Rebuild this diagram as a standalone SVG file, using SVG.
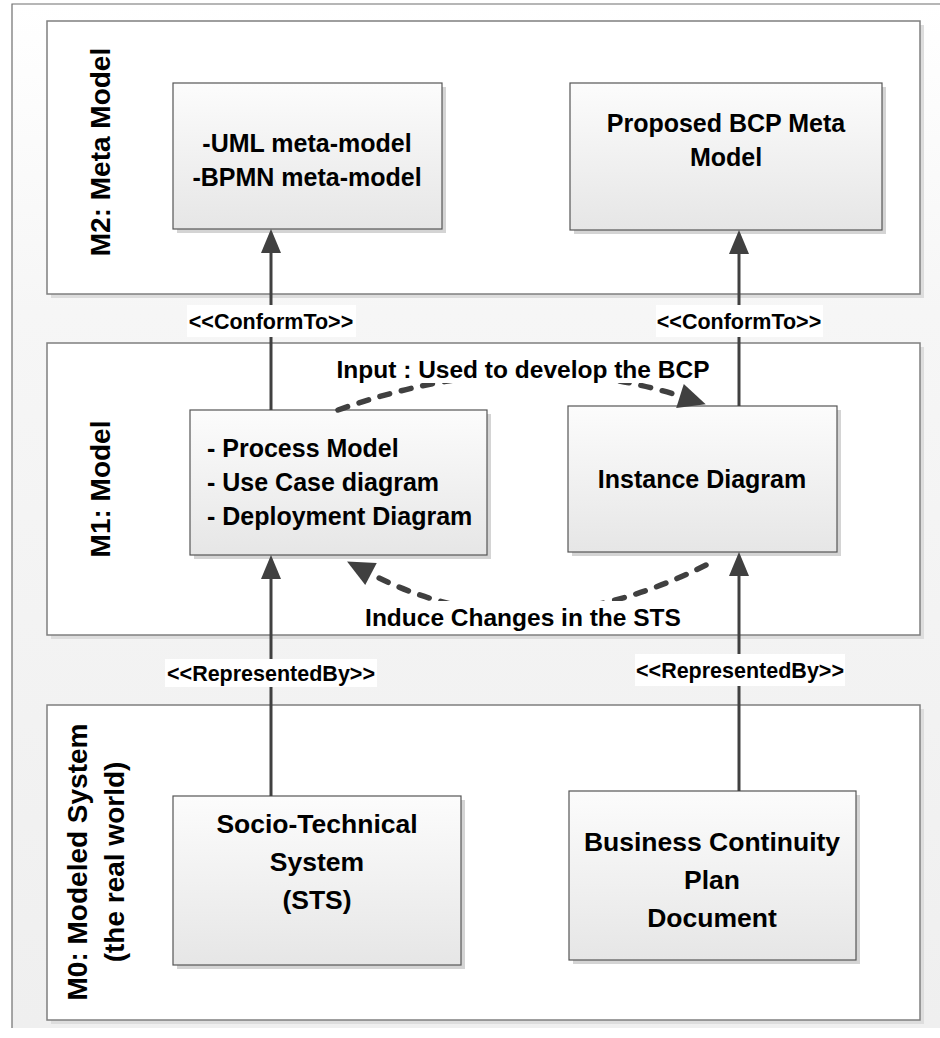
<svg xmlns="http://www.w3.org/2000/svg" width="940" height="1038" viewBox="0 0 940 1038">
  <defs>
    <linearGradient id="bgGrad" x1="0" y1="0" x2="0" y2="1">
      <stop offset="0" stop-color="#ffffff"/>
      <stop offset="0.3" stop-color="#f6f6f6"/>
      <stop offset="1" stop-color="#efefef"/>
    </linearGradient>
    <linearGradient id="boxGrad" x1="0" y1="0" x2="0" y2="1">
      <stop offset="0" stop-color="#fcfcfc"/>
      <stop offset="1" stop-color="#e6e6e6"/>
    </linearGradient>
    <marker id="arrowSolid" markerUnits="userSpaceOnUse" markerWidth="24" markerHeight="20" refX="0" refY="10" orient="auto" overflow="visible">
      <path d="M0,0 L24,10 L0,20 Z" fill="#404040"/>
    </marker>
    <marker id="arrowDash" markerUnits="userSpaceOnUse" markerWidth="27" markerHeight="25" refX="0" refY="12.5" orient="auto" overflow="visible">
      <path d="M0,0 L27,12.5 L0,25 Z" fill="#404040"/>
    </marker>
    <style>
      .frame { fill: url(#bgGrad); }
      .frame-edge { fill: none; stroke: #6e6e6e; stroke-width: 1.2; }
      .layer { fill: #ffffff; stroke: #7f7f7f; stroke-width: 1.5; }
      .layer-shadow { fill: #dddddd; }
      .box { fill: url(#boxGrad); stroke: #555555; stroke-width: 1.2; }
      .box-shadow { fill: #d4d4d4; }
      text { font-family: "Liberation Sans", Arial, sans-serif; font-weight: bold; fill: #000000; }
      .node-text { font-size: 25px; }
      .big-text { font-size: 26.5px; }
      .layer-text { font-size: 28px; }
      .stereo { font-size: 21.5px; }
      .flow-label { font-size: 24.5px; }
      .solid { fill: none; stroke: #404040; stroke-width: 3; marker-end: url(#arrowSolid); }
      .dashed { fill: none; stroke: #404040; stroke-width: 5.5; stroke-linecap: round; stroke-dasharray: 10 12; marker-end: url(#arrowDash); }
      .label-bg { fill: #ffffff; }
    </style>
  </defs>

  <!-- outer frame -->
  <g id="frame">
    <rect class="frame" x="12" y="4" width="928" height="1024"/>
    <path class="frame-edge" d="M940,4 H12 V1028"/>
  </g>

  <!-- metamodelling layers -->
  <g id="layer-m2">
    <rect class="layer-shadow" x="51" y="25" width="873" height="273"/>
    <rect class="layer" x="47" y="21" width="873" height="273"/>
    <text class="layer-text" text-anchor="middle" transform="translate(110,152) rotate(-90)">M2: Meta Model</text>
  </g>
  <g id="layer-m1">
    <rect class="layer-shadow" x="51" y="347" width="873" height="292"/>
    <rect class="layer" x="47" y="343" width="873" height="292"/>
    <text class="layer-text" text-anchor="middle" transform="translate(110,489) rotate(-90)">M1: Model</text>
  </g>
  <g id="layer-m0">
    <rect class="layer-shadow" x="51" y="709" width="873" height="315"/>
    <rect class="layer" x="47" y="705" width="873" height="315"/>
    <text class="layer-text" text-anchor="middle" transform="translate(87,862) rotate(-90)">M0: Modeled System</text>
    <text class="layer-text" text-anchor="middle" transform="translate(124,862) rotate(-90)">(the real world)</text>
  </g>

  <!-- nodes -->
  <g id="node-uml-bpmn">
    <rect class="box-shadow" x="177" y="87" width="269" height="146"/>
    <rect class="box" x="173" y="83" width="269" height="146"/>
    <text class="node-text" text-anchor="middle" x="307" y="152">-UML meta-model</text>
    <text class="node-text" text-anchor="middle" x="307" y="186">-BPMN meta-model</text>
  </g>
  <g id="node-bcp-meta">
    <rect class="box-shadow" x="574" y="87" width="312" height="147"/>
    <rect class="box" x="570" y="83" width="312" height="147"/>
    <text class="node-text" text-anchor="middle" x="726" y="132">Proposed BCP Meta</text>
    <text class="node-text" text-anchor="middle" x="726" y="166">Model</text>
  </g>
  <g id="node-process">
    <rect class="box-shadow" x="194" y="414" width="297" height="145"/>
    <rect class="box" x="190" y="410" width="297" height="145"/>
    <text class="node-text" x="207" y="457">- Process Model</text>
    <text class="node-text" x="207" y="491">- Use Case diagram</text>
    <text class="node-text" x="207" y="525">- Deployment Diagram</text>
  </g>
  <g id="node-instance">
    <rect class="box-shadow" x="572" y="410" width="269" height="146"/>
    <rect class="box" x="568" y="406" width="269" height="146"/>
    <text class="node-text" text-anchor="middle" x="702" y="488">Instance Diagram</text>
  </g>
  <g id="node-sts">
    <rect class="box-shadow" x="177" y="800" width="288" height="169"/>
    <rect class="box" x="173" y="796" width="288" height="169"/>
    <text class="big-text" text-anchor="middle" x="317" y="833">Socio-Technical</text>
    <text class="big-text" text-anchor="middle" x="317" y="871">System</text>
    <text class="big-text" text-anchor="middle" x="317" y="909">(STS)</text>
  </g>
  <g id="node-bcp-doc">
    <rect class="box-shadow" x="573" y="795" width="287" height="169"/>
    <rect class="box" x="569" y="791" width="287" height="169"/>
    <text class="big-text" text-anchor="middle" x="712" y="851">Business Continuity</text>
    <text class="big-text" text-anchor="middle" x="712" y="889">Plan</text>
    <text class="big-text" text-anchor="middle" x="712" y="927">Document</text>
  </g>

  <!-- connectors -->
  <g id="connectors">
    <path class="solid" d="M271,410 V253"/>
    <path class="solid" d="M739,406 V254"/>
    <path class="solid" d="M271,796 V579"/>
    <path class="solid" d="M739,791 V576"/>
    <path class="dashed" d="M338,410 Q520,345 680,396"/>
    <path class="dashed" d="M706,565 Q527,655 371,574"/>

    <rect class="label-bg" x="187" y="305" width="169" height="32"/>
    <text class="stereo" text-anchor="middle" x="271" y="329">&lt;&lt;ConformTo&gt;&gt;</text>
    <rect class="label-bg" x="656" y="305" width="167" height="32"/>
    <text class="stereo" text-anchor="middle" x="739" y="329">&lt;&lt;ConformTo&gt;&gt;</text>
    <rect class="label-bg" x="165" y="659" width="212" height="28"/>
    <text class="stereo" text-anchor="middle" x="271" y="681">&lt;&lt;RepresentedBy&gt;&gt;</text>
    <rect class="label-bg" x="635" y="654" width="210" height="32"/>
    <text class="stereo" text-anchor="middle" x="740" y="678">&lt;&lt;RepresentedBy&gt;&gt;</text>

    <rect class="label-bg" x="333" y="351" width="380" height="32"/>
    <text class="flow-label" text-anchor="middle" x="523" y="378">Input : Used to develop the BCP</text>
    <rect class="label-bg" x="367" y="601" width="313" height="32"/>
    <text class="flow-label" text-anchor="middle" x="523" y="626">Induce Changes in the STS</text>
  </g>
</svg>
